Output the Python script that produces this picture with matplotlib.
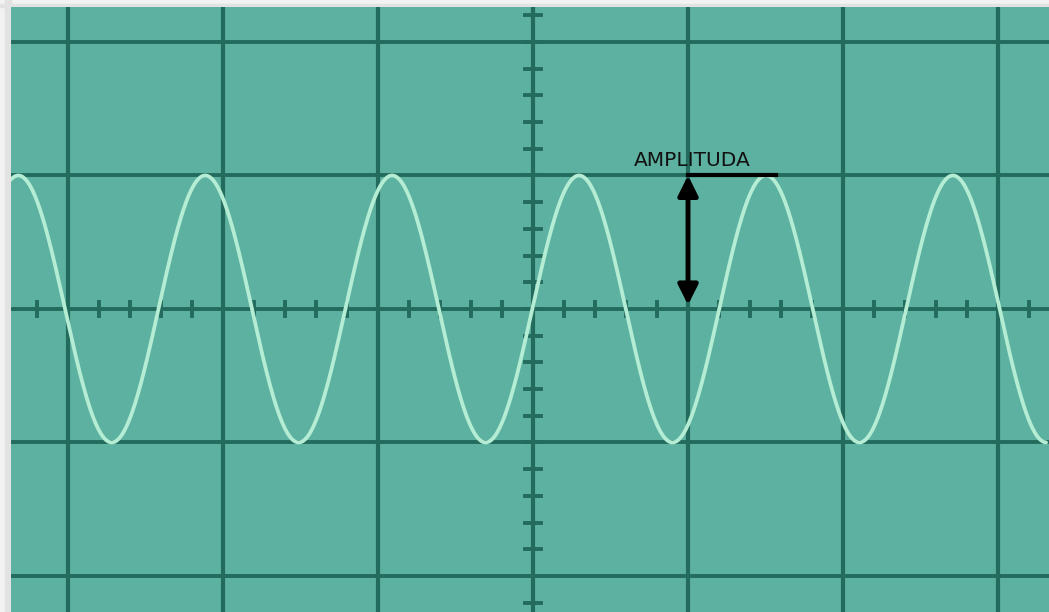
import numpy as np
import matplotlib.pyplot as plt
from matplotlib.patches import Rectangle

# wave parameters (grid units: 1 major division)
amplitude = 1.0
period = 1.206
peak_at = 1.503
x_start, x_end = -3.37, 3.31

# screen grid
major_x = [-3, -2, -1, 0, 1, 2, 3]
major_y = [-2, -1, 0, 1, 2]
label = "AMPLITUDA"

bg = "#5db1a1"
grid_col = "#236b5d"
wave_col = "#b4edd4"

fig = plt.figure(figsize=(10.49, 6.12), dpi=100, facecolor="#f2f2f2")
fig.patches.append(Rectangle((5 / 1049, 0), 6 / 1049, 1, transform=fig.transFigure,
                             color="#e2e2e2", zorder=-1))
fig.patches.append(Rectangle((0, 1 - 7 / 612), 1, 3 / 612, transform=fig.transFigure,
                             color="#e2e2e2", zorder=-1))
ax = fig.add_axes([11 / 1049, 0, 1038 / 1049, 605 / 612])
ax.set_facecolor(bg)
ax.set_xlim(-3.368, 3.329)
ax.set_ylim(-2.27, 2.262)
for s in ax.spines.values():
    s.set_visible(False)
ax.set_xticks([])
ax.set_yticks([])

for gx in major_x:
    ax.axvline(gx, color=grid_col, lw=3.0, zorder=1)
for gy in major_y:
    ax.axhline(gy, color=grid_col, lw=2.8, zorder=1)

# minor ticks on the centre axes
for tx in np.arange(-17, 17) / 5:
    ax.plot([tx, tx], [-0.05, 0.05], color=grid_col, lw=2.8, zorder=1)
for ty in np.arange(-11, 12) / 5:
    ax.plot([-0.05, 0.05], [ty, ty], color=grid_col, lw=2.8, zorder=1)

x = np.linspace(x_start, x_end, 2000)
y = amplitude * np.cos(2 * np.pi * (x - peak_at) / period)
ax.plot(x, y, color=wave_col, lw=2.7, zorder=2, solid_capstyle="round")

# amplitude marker
ax.annotate("", xy=(1.0, 0.03), xytext=(1.0, amplitude), zorder=3,
            arrowprops=dict(arrowstyle="<|-|>", color="black", lw=3.5,
                            mutation_scale=30, shrinkA=0, shrinkB=0))
ax.plot([1.0, 1.57], [amplitude, amplitude], color="black", lw=3, zorder=3)
ax.text(1.03, 1.07, label, fontsize=14.5, family="DejaVu Sans", ha="center",
        va="baseline", color="#111111")

fig.savefig("out.png", dpi=100, facecolor=fig.get_facecolor())
